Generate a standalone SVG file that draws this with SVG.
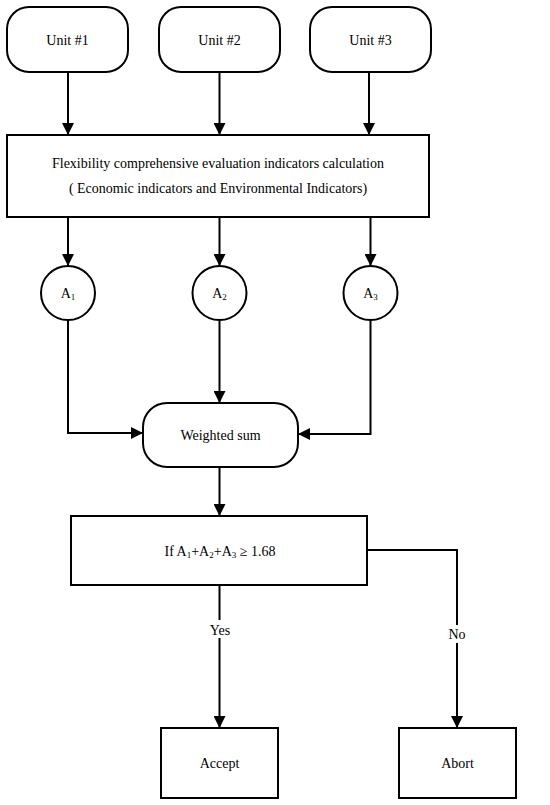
<svg xmlns="http://www.w3.org/2000/svg" width="550" height="805" viewBox="0 0 550 805">
<defs>
<marker id="ah" markerWidth="12" markerHeight="12" viewBox="0 0 12 12" refX="12" refY="6" orient="auto" markerUnits="userSpaceOnUse">
<path d="M0,0 L12,6 L0,12 Z" fill="#000"/>
</marker>
</defs>
<style>
.box{fill:#fff;stroke:#000;stroke-width:2}
.t{font-family:"Liberation Serif","Times New Roman",serif;font-size:14px;fill:#000;text-anchor:middle}
.c{fill:none;stroke:#000;stroke-width:2}
.lbl{fill:#fff}
</style>
<rect width="550" height="805" fill="#fff"/>
<g id="connectors">
<path class="c" d="M68,72 V135" marker-end="url(#ah)"/>
<path class="c" d="M219.5,72 V135" marker-end="url(#ah)"/>
<path class="c" d="M369,72 V135" marker-end="url(#ah)"/>
<path class="c" d="M68,217 V266" marker-end="url(#ah)"/>
<path class="c" d="M219.5,217 V266" marker-end="url(#ah)"/>
<path class="c" d="M370.5,217 V266" marker-end="url(#ah)"/>
<path class="c" d="M68,320 V433 H143" marker-end="url(#ah)"/>
<path class="c" d="M219.5,320 V403" marker-end="url(#ah)"/>
<path class="c" d="M370.5,320 V434 H298" marker-end="url(#ah)"/>
<path class="c" d="M219.5,467 V516" marker-end="url(#ah)"/>
<path class="c" d="M219.5,585 V728" marker-end="url(#ah)"/>
<path class="c" d="M367,550 H457 V728" marker-end="url(#ah)"/>
<rect class="lbl" x="206" y="620" width="28" height="18"/>
<text class="t" x="220" y="635">Yes</text>
<rect class="lbl" x="446" y="625" width="22" height="18"/>
<text class="t" x="457" y="639">No</text>
</g>
<g id="unit1"><rect class="box" x="7" y="7" width="121" height="65" rx="22"/><text class="t" x="67.5" y="45">Unit #1</text></g>
<g id="unit2"><rect class="box" x="159" y="7" width="121" height="65" rx="22"/><text class="t" x="219.5" y="45">Unit #2</text></g>
<g id="unit3"><rect class="box" x="310" y="7" width="121" height="65" rx="22"/><text class="t" x="370.5" y="45">Unit #3</text></g>
<g id="calc"><rect class="box" x="7" y="135" width="422" height="82"/>
<text class="t" x="218" y="168">Flexibility comprehensive evaluation indicators calculation</text>
<text class="t" x="218" y="193">( Economic indicators and Environmental Indicators)</text></g>
<g id="a1"><circle class="box" cx="68" cy="293" r="27"/><text class="t" x="68" y="298">A<tspan font-size="9" dy="2">1</tspan></text></g>
<g id="a2"><circle class="box" cx="219.5" cy="293" r="27"/><text class="t" x="219.5" y="298">A<tspan font-size="9" dy="2">2</tspan></text></g>
<g id="a3"><circle class="box" cx="370.5" cy="293" r="27"/><text class="t" x="370.5" y="298">A<tspan font-size="9" dy="2">3</tspan></text></g>
<g id="wsum"><rect class="box" x="143" y="403" width="155" height="64" rx="24"/><text class="t" x="220.5" y="440">Weighted sum</text></g>
<g id="cond"><rect class="box" x="71" y="516" width="296" height="69"/>
<text class="t" x="220" y="556">If  A<tspan font-size="9" dy="2">1</tspan><tspan dy="-2">+A</tspan><tspan font-size="9" dy="2">2</tspan><tspan dy="-2">+A</tspan><tspan font-size="9" dy="2">3</tspan><tspan dy="-2"> ≥ 1.68</tspan></text></g>
<g id="accept"><rect class="box" x="161" y="728" width="117" height="70"/><text class="t" x="219.5" y="768">Accept</text></g>
<g id="abort"><rect class="box" x="399" y="728" width="117" height="70"/><text class="t" x="457.5" y="768">Abort</text></g>
</svg>
